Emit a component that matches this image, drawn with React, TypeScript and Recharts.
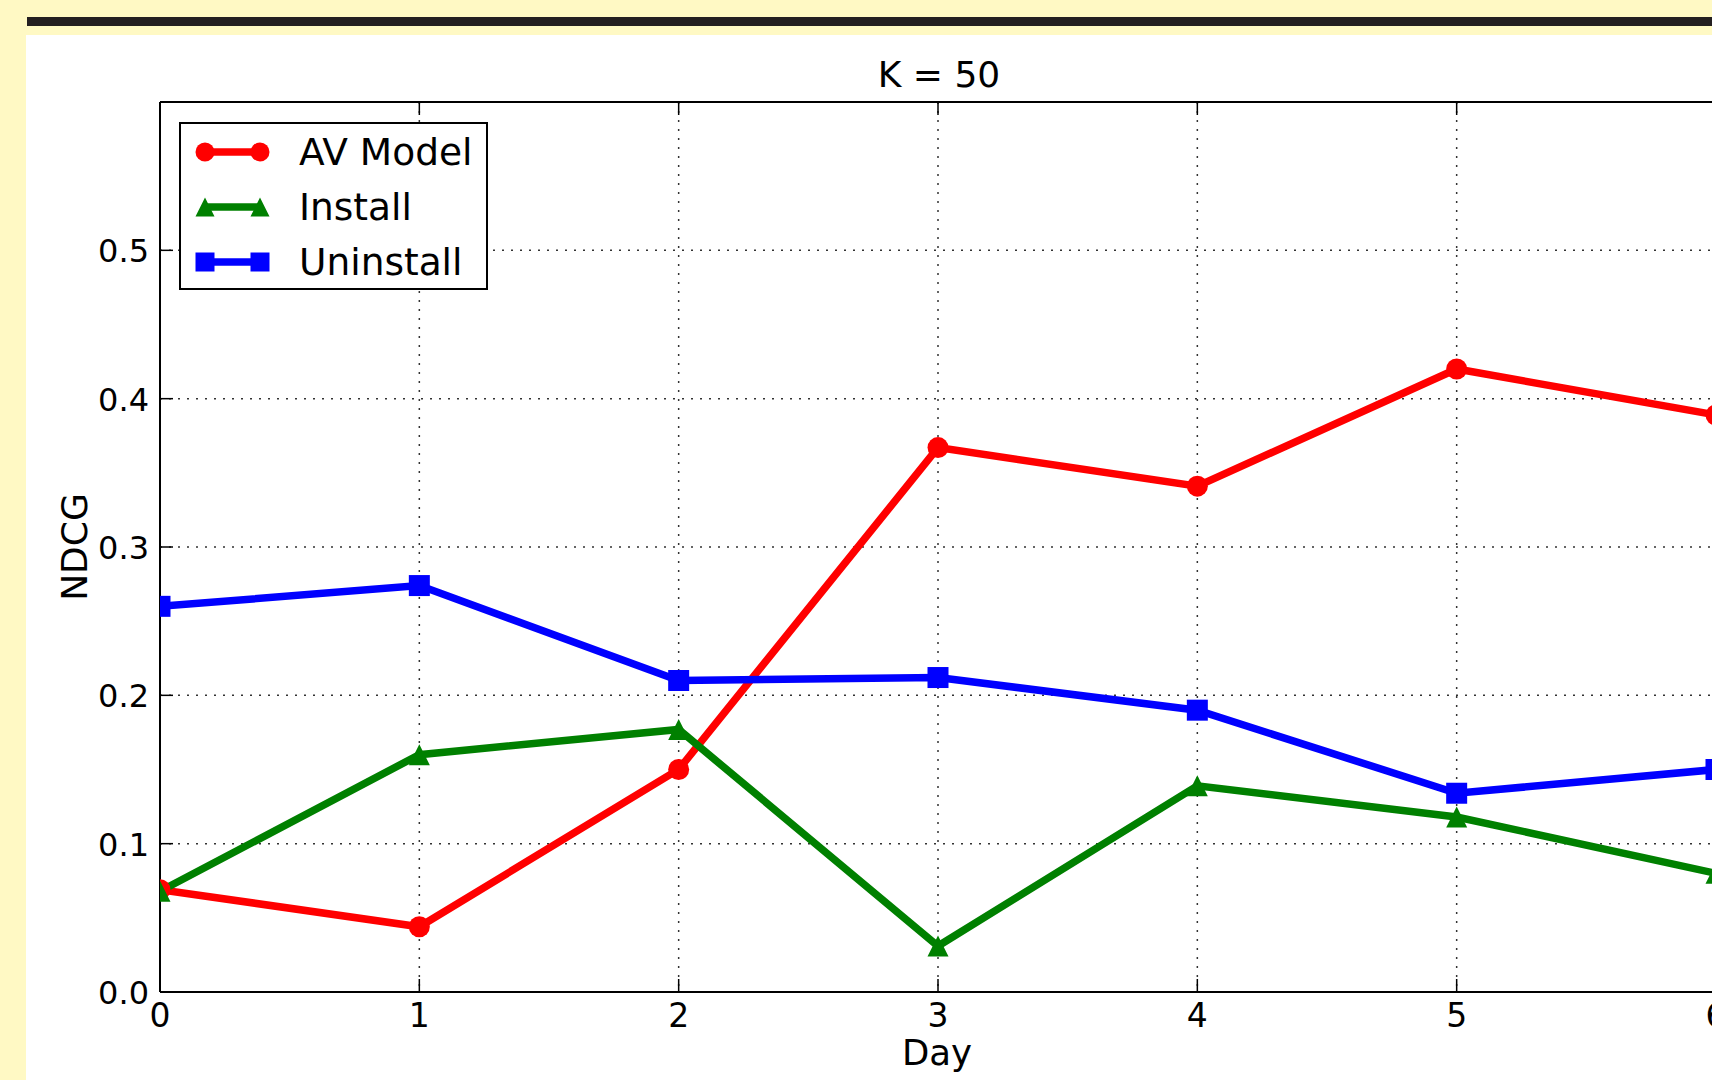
import { LineChart, Line, XAxis, YAxis, CartesianGrid, Legend } from "recharts";

// values
const days = [0, 1, 2, 3, 4, 5, 6];
const avModel = [0.069, 0.044, 0.15, 0.367, 0.341, 0.42, 0.389];
const install = [0.068, 0.16, 0.177, 0.031, 0.139, 0.118, 0.08];
const uninstall = [0.26, 0.274, 0.21, 0.212, 0.19, 0.134, 0.15];
const xTicks = [0, 1, 2, 3, 4, 5, 6];
const yTicks = [0, 0.1, 0.2, 0.3, 0.4, 0.5];

const series = [
  { key: "av", name: "AV Model", color: "#ff0000", shape: "circle" },
  { key: "install", name: "Install", color: "#008000", shape: "triangle" },
  { key: "uninstall", name: "Uninstall", color: "#0000ff", shape: "square" },
];

const data = days.map((d, i) => ({
  day: d,
  av: avModel[i],
  install: install[i],
  uninstall: uninstall[i],
}));

const FONT = "'DejaVu Sans', sans-serif";
const TICK_LEN = 13;

function marker(shape: string, cx: number, cy: number, color: string, s: number, key?: string) {
  if (shape === "circle") return <circle key={key} cx={cx} cy={cy} r={s / 2} fill={color} />;
  if (shape === "square")
    return <rect key={key} x={cx - s / 2} y={cy - s / 2} width={s} height={s} fill={color} />;
  const h = s / 2;
  return (
    <polygon
      key={key}
      points={`${cx},${cy - h} ${cx - h},${cy + h} ${cx + h},${cy + h}`}
      fill={color}
    />
  );
}

const makeDot = (shape: string, color: string) => (props: any) => {
  const { cx, cy, index } = props;
  if (cx == null || cy == null) return <g key={`e${index}`} />;
  return marker(shape, cx, cy, color, shape === "circle" ? 21 : 21, `d${index}`);
};

const BottomTick = (props: any) => {
  const { x, y, payload } = props;
  return (
    <g>
      <line x1={x} y1={y} x2={x} y2={y - TICK_LEN} stroke="#000" strokeWidth={1.5} />
      <text x={x} y={y + 35} textAnchor="middle" fontSize={33} fontFamily={FONT} fill="#000">
        {payload.value}
      </text>
    </g>
  );
};

const TopTick = (props: any) => {
  const { x, y } = props;
  return <line x1={x} y1={y} x2={x} y2={y + TICK_LEN} stroke="#000" strokeWidth={1.5} />;
};

const LeftTick = (props: any) => {
  const { x, y, payload } = props;
  return (
    <g>
      <line x1={x} y1={y} x2={x + TICK_LEN} y2={y} stroke="#000" strokeWidth={1.5} />
      <text x={x - 11} y={y + 12} textAnchor="end" fontSize={32} fontFamily={FONT} fill="#000">
        {Number(payload.value).toFixed(1)}
      </text>
    </g>
  );
};

const LegendBox = () => (
  <svg width={309} height={168} style={{ display: "block" }}>
    <rect x={1} y={1} width={307} height={166} fill="#fff" stroke="#000" strokeWidth={2} />
    {series.map((s, i) => {
      const cy = 30 + i * 55;
      return (
        <g key={s.key}>
          <line x1={26} y1={cy} x2={81} y2={cy} stroke={s.color} strokeWidth={7.5} />
          {marker(s.shape, 26, cy, s.color, 19)}
          {marker(s.shape, 81, cy, s.color, 19)}
          <text x={120} y={cy + 13} fontSize={37.5} fontFamily={FONT} fill="#000">
            {s.name}
          </text>
        </g>
      );
    })}
  </svg>
);

export default function App() {
  return (
    <div
      style={{
        position: "absolute",
        left: 0,
        top: 0,
        width: 1712,
        height: 1080,
        overflow: "hidden",
        background: "#fff9c4",
      }}
    >
      <div style={{ position: "absolute", left: 27, top: 17, right: 0, height: 9, background: "#231f20" }} />
      <div style={{ position: "absolute", left: 26, top: 35, right: 0, bottom: 0, background: "#fff" }} />
      <div style={{ position: "absolute", left: 0, top: 0 }}>
        <LineChart
          width={1760}
          height={1080}
          data={data}
          margin={{ top: 101, right: 44, bottom: 87, left: 159 }}
        >
          <CartesianGrid
            stroke="#333"
            strokeWidth={1.5}
            strokeDasharray="2 7"
            horizontalValues={yTicks}
            verticalValues={xTicks}
          />
          <XAxis
            dataKey="day"
            type="number"
            domain={[0, 6]}
            ticks={xTicks}
            interval={0}
            allowDataOverflow
            height={1}
            tickSize={0}
            tickMargin={0}
            tickLine={false}
            tick={<BottomTick />}
            axisLine={{ stroke: "#000", strokeWidth: 2 }}
          />
          <XAxis
            xAxisId="top"
            orientation="top"
            dataKey="day"
            type="number"
            domain={[0, 6]}
            ticks={xTicks}
            interval={0}
            height={1}
            tickSize={0}
            tickMargin={0}
            tickLine={false}
            tick={<TopTick />}
            axisLine={{ stroke: "#000", strokeWidth: 2 }}
          />
          <YAxis
            type="number"
            domain={[0, 0.6]}
            ticks={yTicks}
            interval={0}
            allowDataOverflow
            width={1}
            tickSize={0}
            tickMargin={0}
            tickLine={false}
            tick={<LeftTick />}
            axisLine={{ stroke: "#000", strokeWidth: 2 }}
          />
          <Legend
            layout="vertical"
            align="center"
            verticalAlign="middle"
            content={<LegendBox />}
            wrapperStyle={{ position: "absolute", left: 179, top: 122, width: 309, height: 168 }}
          />
          {series.map((s) => (
            <Line
              key={s.key}
              dataKey={s.key}
              name={s.name}
              type="linear"
              stroke={s.color}
              strokeWidth={7.5}
              dot={makeDot(s.shape, s.color)}
              activeDot={false}
              isAnimationActive={false}
            />
          ))}
        </LineChart>
      </div>
      <svg
        width={1712}
        height={1080}
        style={{ position: "absolute", left: 0, top: 0, pointerEvents: "none" }}
      >
        <text x={939} y={87} textAnchor="middle" fontSize={36} fontFamily={FONT} fill="#000">
          K = 50
        </text>
        <text x={937} y={1065} textAnchor="middle" fontSize={35.5} fontFamily={FONT} fill="#000">
          Day
        </text>
        <text
          transform="translate(87,547) rotate(-90)"
          textAnchor="middle"
          fontSize={36}
          fontFamily={FONT}
          fill="#000"
        >
          NDCG
        </text>
      </svg>
    </div>
  );
}
